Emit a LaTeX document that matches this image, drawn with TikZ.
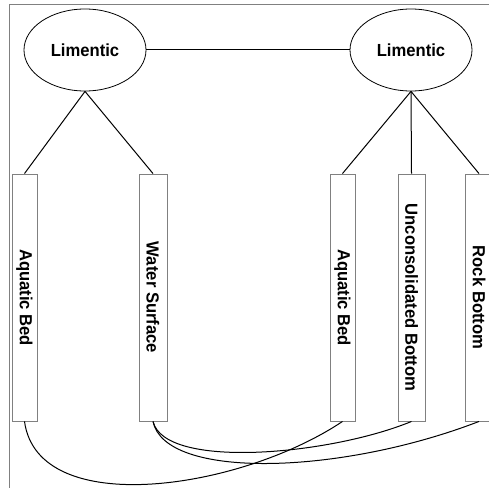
\documentclass[tikz,border=0pt]{standalone}
\usepackage{fontspec}
\setmainfont{Liberation Sans}
\newfontfamily\labelfont[FakeStretch=0.95]{Liberation Sans}
\usetikzlibrary{shapes.geometric}
\begin{document}
\begin{tikzpicture}[x=1pt,y=-1pt,
  every node/.style={font=\labelfont\bfseries\fontsize{17.5}{20}\selectfont},
  class/.style={ellipse,draw=black,line width=0.8pt,minimum width=122pt,minimum height=82pt,inner sep=0pt},
  subclass/.style={rectangle,draw=gray,line width=0.9pt,rotate=-90,minimum width=247pt,inner sep=0pt},
  link/.style={draw=black,line width=1pt}]
\useasboundingbox (0,0) rectangle (489,487);
\clip (0,0) rectangle (489,487);
% outer frame
\draw[gray,line width=1pt] (9,495) -- (9,5) -- (495,5);
% system level
\node[class] (L1) at (85,50) {Limentic};
\node[class] (L2) at (411,50) {Limentic};
% classes
\node[subclass,minimum height=25pt] (A1) at (24.5,297.5) {Aquatic Bed};
\node[subclass,minimum height=28pt] (W1) at (153,297.5) {Water Surface};
\node[subclass,minimum height=25pt] (A2) at (342.5,297.5) {Aquatic Bed};
\node[subclass,minimum height=27pt] (U2) at (411.5,297.5) {Unconsolidated Bottom};
\node[subclass,minimum height=28pt] (R2) at (479,297.5) {Rock Bottom};
% hierarchy
\draw[link] (L1.east) -- (L2.west);
\draw[link] (L1.south) -- (A1.west);
\draw[link] (L1.south) -- (W1.west);
\draw[link] (L2.south) -- (A2.west);
\draw[link] (L2.south) -- (U2.west);
\draw[link] (L2.south) -- (R2.west);
% cross links between classes
\draw[link] (A1.east) .. controls (38,520) and (240,490) .. (A2.east);
\draw[link] (W1.east) .. controls (165,470) and (330,455) .. (U2.east);
\draw[link] (W1.east) .. controls (165,480) and (340,475) .. (R2.east);
\end{tikzpicture}
\end{document}
